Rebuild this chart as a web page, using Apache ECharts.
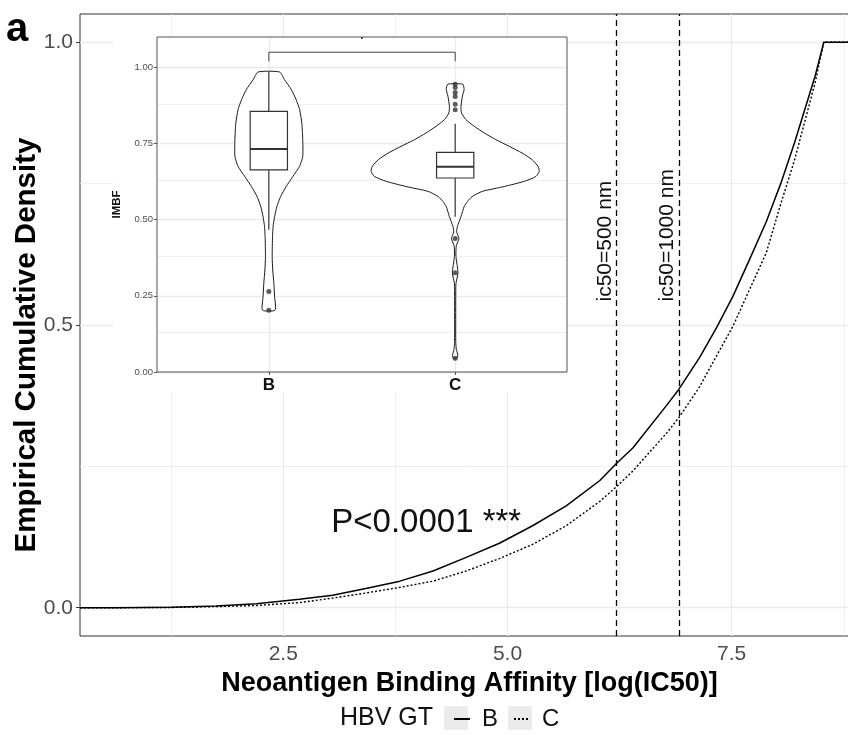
<!DOCTYPE html>
<html>
<head>
<meta charset="utf-8">
<script src="https://cdn.jsdelivr.net/npm/echarts@6/dist/echarts.min.js"></script>
<style>
  html, body { margin: 0; padding: 0; background: #fff; }
  #chart { width: 848px; height: 747px; }
</style>
</head>
<body>
<div id="chart"></div>
<script>
/* global echarts */

// ECDF curves (first/last x are the panel edges)
const curveX = [0.233, 0.63, 1.25, 1.75, 2.2, 2.68, 3.05, 3.42, 3.8, 4.17, 4.54, 4.91, 5.28, 5.655,
  6.03, 6.215, 6.4, 6.77, 6.91, 7.14, 7.33, 7.515, 7.7, 7.887, 8.047, 8.2, 8.43, 8.527, 8.92];
const curveB = [0, 0, 0.001, 0.003, 0.007, 0.015, 0.022, 0.034, 0.047, 0.065, 0.089, 0.114, 0.145, 0.18,
  0.225, 0.255, 0.283, 0.357, 0.386, 0.442, 0.495, 0.551, 0.616, 0.683, 0.75, 0.822, 0.94, 1, 1];
const curveC = [0, 0, 0.0005, 0.002, 0.004, 0.009, 0.017, 0.026, 0.036, 0.047, 0.065, 0.087, 0.112, 0.145,
  0.188, 0.214, 0.242, 0.308, 0.336, 0.39, 0.445, 0.498, 0.563, 0.628, 0.714, 0.791, 0.928, 1, 1];

// thresholds (nM) drawn at log(IC50)
const ic50Values = [500, 1000];
const ic50Labels = ['ic50=500 nm', 'ic50=1000 nm'];
const ic50LabelY = 0.5415;

const pText = 'P<0.0001 ***';
const pPos = [4.094, 0.15];

// main panel grid lines
const mainMajorX = [2.5, 5, 7.5];
const mainMinorX = [1.25, 3.75, 6.25, 8.75];
const mainMajorY = [0, 0.5, 1];
const mainMinorY = [0.25, 0.75];

// inset: IMBF violins
const groups = ['B', 'C'];
const violinBValue = [0.203, 0.247, 0.291, 0.335, 0.379, 0.445, 0.478, 0.51, 0.543, 0.576, 0.609, 0.642,
  0.675, 0.708, 0.763, 0.818, 0.862, 0.895, 0.928, 0.96, 0.985];
const violinBHalf = [0.034, 0.031, 0.027, 0.021, 0.018, 0.02, 0.023, 0.031, 0.043, 0.063, 0.093, 0.129,
  0.165, 0.182, 0.182, 0.177, 0.165, 0.146, 0.12, 0.084, 0.058];
const violinCValue = [0.045, 0.055, 0.075, 0.1, 0.247, 0.29, 0.326, 0.38, 0.415, 0.438, 0.46, 0.478, 0.51,
  0.543, 0.56, 0.576, 0.593, 0.609, 0.626, 0.642, 0.659, 0.675, 0.697, 0.719, 0.741, 0.763, 0.785, 0.807,
  0.829, 0.851, 0.873, 0.906, 0.928, 0.945];
const violinCHalf = [0.01, 0.014, 0.006, 0.003, 0.003, 0.004, 0.015, 0.004, 0.006, 0.02, 0.008, 0.012, 0.031,
  0.048, 0.066, 0.091, 0.145, 0.263, 0.37, 0.433, 0.451, 0.445, 0.413, 0.359, 0.29, 0.218, 0.156, 0.102,
  0.057, 0.034, 0.031, 0.039, 0.048, 0.04];

// box stats: [group, lower whisker, q1, median, q3, upper whisker]
const boxB = [1, 0.467, 0.664, 0.732, 0.856, 0.985];
const boxC = [2, 0.51, 0.637, 0.674, 0.721, 0.815];

const outlierGroup = [1, 1, 2, 2, 2, 2, 2, 2, 2, 2, 2];
const outlierValue = [0.264, 0.203, 0.945, 0.934, 0.918, 0.905, 0.879, 0.861, 0.438, 0.326, 0.045];

const insetMajorY = [0, 0.25, 0.5, 0.75, 1];
const insetMinorY = [0.125, 0.375, 0.625, 0.875];

const FONT = 'Liberation Sans, Arial, Helvetica, sans-serif';
const BOX_HALF = 0.1;

let chart = echarts.init(document.getElementById('chart'));

function gridLines(major, minor, key) {
    return major.map(v => ({ [key]: v, lineStyle: { width: 1.4 } }))
        .concat(minor.map(v => ({ [key]: v, lineStyle: { width: 0.8 } })));
}

function gridMark(z, data) {
    return {
        z: z,
        symbol: ['none', 'none'],
        silent: true,
        animation: false,
        label: { show: false },
        lineStyle: { color: '#ebebeb', type: 'solid' },
        data: data
    };
}

const violins = [
    { group: 1, vals: violinBValue, half: violinBHalf },
    { group: 2, vals: violinCValue, half: violinCHalf }
];

function renderViolin(params, api) {
    const v = violins[params.dataIndex];
    const right = v.vals.map((y, i) => api.coord([v.group + v.half[i], y]));
    const left = v.vals.map((y, i) => api.coord([v.group - v.half[i], y])).reverse();
    return {
        type: 'polygon',
        shape: { points: right.concat(left), smooth: 0.2 },
        style: { fill: '#fff', stroke: '#1a1a1a', lineWidth: 1 }
    };
}

function renderBox(params, api) {
    const g = api.value(0);
    const lo = api.coord([g, api.value(1)]);
    const q1 = api.coord([g, api.value(2)]);
    const md = api.coord([g - BOX_HALF, api.value(3)]);
    const mdR = api.coord([g + BOX_HALF, api.value(3)]);
    const q3 = api.coord([g, api.value(4)]);
    const hi = api.coord([g, api.value(5)]);
    const x0 = api.coord([g - BOX_HALF, 0])[0];
    const x1 = api.coord([g + BOX_HALF, 0])[0];
    const stroke = { stroke: '#333', lineWidth: 1.2 };
    return {
        type: 'group',
        children: [
            { type: 'line', shape: { x1: lo[0], y1: lo[1], x2: q1[0], y2: q1[1] }, style: stroke },
            { type: 'line', shape: { x1: q3[0], y1: q3[1], x2: hi[0], y2: hi[1] }, style: stroke },
            { type: 'rect', shape: { x: x0, y: q3[1], width: x1 - x0, height: q1[1] - q3[1] },
              style: { fill: '#fff', stroke: '#333', lineWidth: 1.2 } },
            { type: 'line', shape: { x1: md[0], y1: md[1], x2: mdR[0], y2: mdR[1] },
              style: { stroke: '#333', lineWidth: 2 } }
        ]
    };
}

function renderBracket(params, api) {
    const a = api.coord([1, 1.02]);
    const b = api.coord([1, 1.05]);
    const c = api.coord([2, 1.05]);
    const d = api.coord([2, 1.02]);
    const t = api.coord([1.5, 1.083]);
    return {
        type: 'group',
        children: [
            { type: 'polyline', shape: { points: [a, b, c, d] }, style: { stroke: '#444', lineWidth: 1, fill: null } },
            { type: 'text', x: t[0], y: t[1], style: { text: '.', fontSize: 12, fontWeight: 'bold', fontFamily: FONT, fill: '#333', align: 'center', verticalAlign: 'bottom' } }
        ]
    };
}

const option = {
    animation: false,
    grid: [
        { left: 80, top: 14, width: 779, height: 622, outerBoundsMode: 'none', show: true, borderColor: '#333', borderWidth: 1, backgroundColor: 'transparent' },
        { left: 157, top: 37, width: 410, height: 335, outerBoundsMode: 'none', show: true, borderColor: '#555', borderWidth: 1, z: 10 }
    ],
    xAxis: [
        {
            type: 'value', gridIndex: 0, min: 0.233, max: 8.92,
            name: 'Neoantigen Binding Affinity [log(IC50)]',
            nameLocation: 'middle', nameGap: 33,
            nameTextStyle: { fontSize: 27, fontWeight: 'bold', fontFamily: FONT, color: '#000' },
            axisLine: { show: false },
            axisTick: { show: true, length: 4, customValues: mainMajorX, lineStyle: { color: '#333' } },
            axisLabel: { customValues: mainMajorX, formatter: v => v.toFixed(1), fontSize: 21, fontFamily: FONT, color: '#4d4d4d', margin: 8 },
            splitLine: { show: false }
        },
        {
            type: 'value', gridIndex: 1, min: 0.4, max: 2.6, z: 10,
            axisLine: { show: false },
            axisTick: { show: true, length: 3, customValues: [1, 2], lineStyle: { color: '#555' } },
            axisLabel: { customValues: [1, 2], formatter: v => groups[v - 1], fontSize: 17, fontWeight: 'bold', fontFamily: FONT, color: '#111', margin: 5 },
            splitLine: { show: false }
        }
    ],
    yAxis: [
        {
            type: 'value', gridIndex: 0, min: -0.05, max: 1.05,
            name: 'Empirical Cumulative Density',
            nameLocation: 'middle', nameGap: 38, nameMoveOverlap: false,
            nameTextStyle: { fontSize: 29.5, fontWeight: 'bold', fontFamily: FONT, color: '#000', padding: [0, 40, 0, 0] },
            axisLine: { show: false },
            axisTick: { show: true, length: 4, customValues: mainMajorY, lineStyle: { color: '#333' } },
            axisLabel: { customValues: mainMajorY, formatter: v => v.toFixed(1), fontSize: 21, fontFamily: FONT, color: '#4d4d4d', margin: 7 },
            splitLine: { show: false }
        },
        {
            type: 'value', gridIndex: 1, min: 0, max: 1.1, z: 10,
            name: 'IMBF',
            nameLocation: 'middle', nameGap: 34,
            nameTextStyle: { fontSize: 11.5, fontWeight: 'bold', fontFamily: FONT, color: '#111' },
            axisLine: { show: false },
            axisTick: { show: true, length: 3, customValues: insetMajorY, lineStyle: { color: '#555' } },
            axisLabel: { customValues: insetMajorY, formatter: v => v.toFixed(2), fontSize: 9.5, fontFamily: FONT, color: '#4d4d4d', margin: 4 },
            splitLine: { show: false }
        }
    ],
    legend: {
        data: ['B', 'C'],
        left: 448, top: 702,
        itemWidth: 16, itemHeight: 10, itemGap: 15,
        itemStyle: { opacity: 0 },
        textStyle: { fontSize: 24, fontFamily: FONT, color: '#111', padding: [0, 0, 0, 7] }
    },
    graphic: [
        { type: 'rect', shape: { x: 113, y: 37, width: 454, height: 356 }, style: { fill: '#fff' }, z: 5, silent: true },
        { type: 'rect', shape: { x: 444, y: 706, width: 24, height: 24 }, style: { fill: '#ebebeb' }, z: 0, silent: true },
        { type: 'rect', shape: { x: 508, y: 706, width: 24, height: 24 }, style: { fill: '#ebebeb' }, z: 0, silent: true },
        { type: 'text', x: 340, y: 718, style: { text: 'HBV GT', fontSize: 25, fontFamily: FONT, fill: '#111', verticalAlign: 'middle' } },
        { type: 'text', x: 6, y: 10, style: { text: 'a', fontSize: 40, fontWeight: 'bold', fontFamily: FONT, fill: '#000', verticalAlign: 'top' } }
    ],
    series: [
        {
            type: 'line', xAxisIndex: 0, yAxisIndex: 0, data: [], z: 1, silent: true,
            markLine: gridMark(1, gridLines(mainMajorX, mainMinorX, 'xAxis').concat(gridLines(mainMajorY, mainMinorY, 'yAxis')))
        },
        {
            name: 'B', type: 'line', xAxisIndex: 0, yAxisIndex: 0, z: 3,
            data: curveX.map((x, i) => [x, curveB[i]]),
            symbol: 'none',
            lineStyle: { color: '#000', width: 1.5 },
            itemStyle: { color: '#000' }
        },
        {
            name: 'C', type: 'line', xAxisIndex: 0, yAxisIndex: 0, z: 3,
            data: curveX.map((x, i) => [x, curveC[i]]),
            symbol: 'none',
            lineStyle: { color: '#000', width: 1.4, type: [2, 2] },
            itemStyle: { color: '#000' }
        },
        {
            type: 'line', xAxisIndex: 0, yAxisIndex: 0, data: [], z: 3, silent: true,
            markLine: {
                z: 3,
                symbol: ['none', 'none'], silent: true, animation: false, label: { show: false },
                lineStyle: { color: '#000', width: 1.3, type: [6, 4] },
                data: ic50Values.map(v => ({ xAxis: Math.log(v) }))
            }
        },
        {
            type: 'custom', xAxisIndex: 0, yAxisIndex: 0, z: 3, silent: true,
            data: ic50Values.map(v => [Math.log(v), ic50LabelY]),
            renderItem: (params, api) => {
                const p = api.coord([api.value(0), api.value(1)]);
                return {
                    type: 'text', x: p[0] - 1, y: p[1], rotation: Math.PI / 2,
                    style: { text: ic50Labels[params.dataIndex], fontSize: 21, fontFamily: FONT, fill: '#111', align: 'left', verticalAlign: 'bottom' }
                };
            }
        },
        {
            type: 'custom', xAxisIndex: 0, yAxisIndex: 0, z: 3, silent: true,
            data: [pPos],
            renderItem: (params, api) => {
                const p = api.coord([api.value(0), api.value(1)]);
                return {
                    type: 'text', x: p[0], y: p[1],
                    style: { text: pText, fontSize: 33, fontFamily: FONT, fill: '#111', align: 'center', verticalAlign: 'middle' }
                };
            }
        },
        {
            type: 'line', xAxisIndex: 1, yAxisIndex: 1, data: [], z: 6, silent: true,
            markLine: gridMark(6, gridLines([1, 2], [], 'xAxis').concat(gridLines(insetMajorY, insetMinorY, 'yAxis')))
        },
        {
            type: 'custom', xAxisIndex: 1, yAxisIndex: 1, z: 7, silent: true,
            data: violins.map(v => [v.group]),
            renderItem: renderViolin
        },
        {
            type: 'custom', xAxisIndex: 1, yAxisIndex: 1, z: 8, silent: true,
            data: [boxB, boxC],
            renderItem: renderBox
        },
        {
            type: 'scatter', xAxisIndex: 1, yAxisIndex: 1, z: 9, silent: true,
            data: outlierGroup.map((g, i) => [g, outlierValue[i]]),
            symbolSize: 5,
            itemStyle: { color: '#333' }
        },
        {
            type: 'custom', xAxisIndex: 1, yAxisIndex: 1, z: 9, silent: true,
            data: [[1.5]],
            renderItem: renderBracket
        }
    ]
};

chart.setOption(option);
</script>
</body>
</html>
